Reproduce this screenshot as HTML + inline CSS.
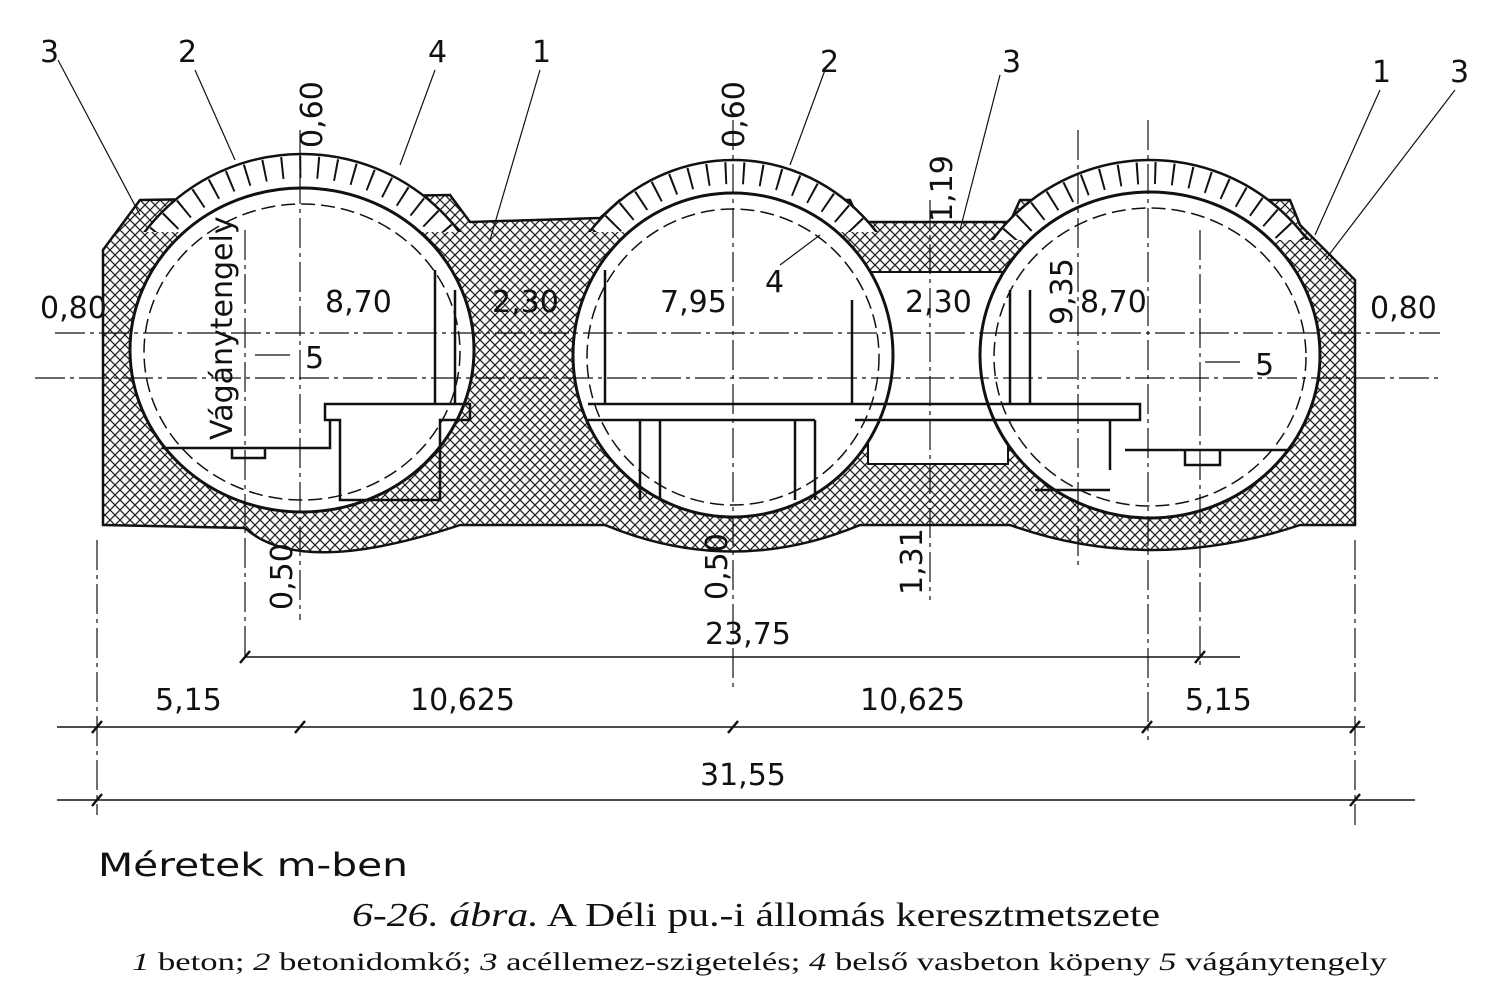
<!DOCTYPE html>
<html><head><meta charset="utf-8"><style>
html,body{margin:0;padding:0;background:#fff}
svg{display:block}
.t{font-family:"DejaVu Sans","Liberation Sans",sans-serif;font-size:30px;fill:#111}
.s{font-family:"Liberation Serif",serif;fill:#111}
</style></head><body>
<svg width="1500" height="998" viewBox="0 0 1500 998" xmlns="http://www.w3.org/2000/svg">
<defs>
<pattern id="h" width="10" height="10" patternUnits="userSpaceOnUse">
<rect width="10" height="10" fill="#fff"/>
<path d="M0,0L10,10M10,0L0,10" stroke="#222" stroke-width="1.3"/>
</pattern>
<clipPath id="top1"><rect x="0" y="0" width="1500" height="232"/></clipPath>
<clipPath id="top2"><rect x="0" y="0" width="1500" height="240"/></clipPath>
</defs>
<rect width="1500" height="998" fill="#fff"/>

<path d="M103,250 L140,200 L450,195 L470,222 L600,218 L620,200 L850,200 L860,222 L1010,222 L1020,200 L1290,200 L1300,225 L1355,280 L1355,525 L1300,525 Q1150,575 1010,525 L860,525 Q733,578 605,525 L460,525 Q300,578 245,528 L103,525 Z" fill="url(#h)" stroke="#111" stroke-width="2.5"/>
<rect x="868" y="272" width="140" height="192" fill="#fff" stroke="#111" stroke-width="2"/>

<g clip-path="url(#top1)" stroke="#111">
<ellipse cx="302" cy="350" rx="197" ry="196" fill="#fff" stroke-width="2.5"/>
<ellipse cx="302" cy="350" rx="185" ry="183" fill="none" stroke-width="22" stroke-dasharray="2 16"/>
<ellipse cx="733" cy="355" rx="185" ry="195" fill="#fff" stroke-width="2.5"/>
<ellipse cx="733" cy="355" rx="173" ry="182" fill="none" stroke-width="22" stroke-dasharray="2 16"/>
</g>
<g clip-path="url(#top2)" stroke="#111">
<ellipse cx="1150" cy="355" rx="195" ry="195" fill="#fff" stroke-width="2.5"/>
<ellipse cx="1150" cy="355" rx="183" ry="182" fill="none" stroke-width="22" stroke-dasharray="2 16"/>
</g>

<ellipse cx="302" cy="350" rx="172" ry="162" fill="#fff" stroke="#111" stroke-width="3"/>
<ellipse cx="302" cy="352" rx="158" ry="148" fill="none" stroke="#111" stroke-width="1.5" stroke-dasharray="14 6"/>
<ellipse cx="733" cy="355" rx="160" ry="162" fill="#fff" stroke="#111" stroke-width="3"/>
<ellipse cx="733" cy="357" rx="146" ry="148" fill="none" stroke="#111" stroke-width="1.5" stroke-dasharray="14 6"/>
<ellipse cx="1150" cy="355" rx="170" ry="163" fill="#fff" stroke="#111" stroke-width="3"/>
<ellipse cx="1150" cy="357" rx="156" ry="149" fill="none" stroke="#111" stroke-width="1.5" stroke-dasharray="14 6"/>

<g fill="none" stroke="#111" stroke-width="2.5">
<path d="M325,420 L325,404 L470,404 L470,420 L440,420 L440,500 L340,500 L340,420 Z"/>
<path d="M435,270 L435,404 M455,290 L455,404"/>
<path d="M162,448 L330,448 L330,420"/>
<path d="M232,448 L232,458 L265,458 L265,448"/>
<path d="M588,404 L1140,404 L1140,420 L1110,420 L1110,470 M588,420 L815,420 M640,420 L640,500 M660,420 L660,500 M795,420 L795,500 M815,420 L815,500 M855,420 L1110,420"/>
<path d="M605,270 L605,404 M852,300 L852,404 M1010,290 L1010,404 M1030,290 L1030,404"/>
<path d="M1125,450 L1290,450 M1185,450 L1185,465 L1220,465 L1220,450"/>
<path d="M1035,490 L1110,490"/>
</g>

<g stroke="#111" stroke-width="1.2" stroke-dasharray="30 5 4 5" fill="none">
<line x1="55" y1="333" x2="1440" y2="333"/>
<line x1="35" y1="378" x2="1440" y2="378"/>
<line x1="300" y1="130" x2="300" y2="620"/>
<line x1="733" y1="120" x2="733" y2="690"/>
<line x1="1148" y1="120" x2="1148" y2="740"/>
<line x1="245" y1="230" x2="245" y2="660"/>
<line x1="1200" y1="230" x2="1200" y2="665"/>
<line x1="97" y1="540" x2="97" y2="815"/>
<line x1="1355" y1="540" x2="1355" y2="825"/>
<line x1="930" y1="200" x2="930" y2="600"/>
<line x1="1078" y1="130" x2="1078" y2="570"/>
</g>
<g stroke="#111" stroke-width="1.2" fill="none">
<line x1="58" y1="60" x2="140" y2="215"/>
<line x1="195" y1="70" x2="235" y2="160"/>
<line x1="435" y1="70" x2="400" y2="165"/>
<line x1="540" y1="70" x2="490" y2="240"/>
<line x1="825" y1="70" x2="790" y2="165"/>
<line x1="1000" y1="75" x2="960" y2="230"/>
<line x1="1380" y1="90" x2="1315" y2="235"/>
<line x1="1455" y1="90" x2="1325" y2="260"/>
<line x1="820" y1="235" x2="780" y2="265"/>
<line x1="1240" y1="362" x2="1205" y2="362"/>
<line x1="290" y1="355" x2="255" y2="355"/>
</g>

<g stroke="#111" stroke-width="1.5">
<line x1="245" y1="657" x2="1240" y2="657"/>
<line x1="57" y1="727" x2="1365" y2="727"/>
<line x1="57" y1="800" x2="1415" y2="800"/>
<g stroke-width="2.5">
<line x1="240" y1="663" x2="250" y2="651"/><line x1="1195" y1="663" x2="1205" y2="651"/>
<line x1="92" y1="733" x2="102" y2="721"/><line x1="295" y1="733" x2="305" y2="721"/><line x1="728" y1="733" x2="738" y2="721"/><line x1="1142" y1="733" x2="1152" y2="721"/><line x1="1350" y1="733" x2="1360" y2="721"/>
<line x1="92" y1="806" x2="102" y2="794"/><line x1="1350" y1="806" x2="1360" y2="794"/>
</g>
</g>

<g class="t">
<text x="40" y="62">3</text><text x="178" y="62">2</text><text x="428" y="62">4</text><text x="532" y="62">1</text>
<text x="820" y="72">2</text><text x="1002" y="72">3</text><text x="1372" y="82">1</text><text x="1450" y="82">3</text>
<text x="40" y="318">0,80</text><text x="325" y="312">8,70</text><text x="492" y="312">2,30</text>
<text x="660" y="312">7,95</text><text x="765" y="292">4</text><text x="905" y="312">2,30</text>
<text x="1080" y="312">8,70</text><text x="1370" y="318">0,80</text>
<text x="305" y="368">5</text><text x="1255" y="375">5</text>
<text x="705" y="644">23,75</text>
<text x="155" y="710">5,15</text><text x="410" y="710">10,625</text><text x="860" y="710">10,625</text><text x="1185" y="710">5,15</text>
<text x="700" y="785">31,55</text>
<text transform="translate(322,148) rotate(-90)">0,60</text>
<text transform="translate(744,148) rotate(-90)">0,60</text>
<text transform="translate(952,222) rotate(-90)">1,19</text>
<text transform="translate(1072,325) rotate(-90)">9,35</text>
<text transform="translate(232,440) rotate(-90)">Vágánytengely</text>
<text transform="translate(292,610) rotate(-90)">0,50</text>
<text transform="translate(727,600) rotate(-90)">0,50</text>
<text transform="translate(922,595) rotate(-90)">1,31</text>
<text x="98" y="876" style="font-size:32px" textLength="310" lengthAdjust="spacingAndGlyphs">Méretek m-ben</text>
</g>
<text class="s" x="352" y="926" style="font-size:34px" textLength="808" lengthAdjust="spacingAndGlyphs"><tspan font-style="italic">6-26. ábra.</tspan> A Déli pu.-i állomás keresztmetszete</text>
<text class="s" x="132" y="970" style="font-size:25px" textLength="1255" lengthAdjust="spacingAndGlyphs"><tspan font-style="italic">1</tspan> beton; <tspan font-style="italic">2</tspan> betonidomkő; <tspan font-style="italic">3</tspan> acéllemez-szigetelés; <tspan font-style="italic">4</tspan> belső vasbeton köpeny  <tspan font-style="italic">5</tspan> vágánytengely</text>
</svg>
</body></html>
